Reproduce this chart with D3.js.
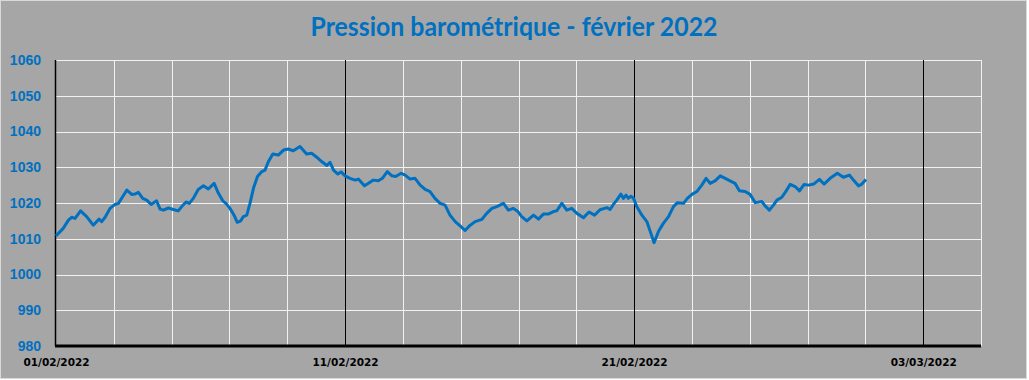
<!DOCTYPE html>
<html><head><meta charset="utf-8">
<script src="https://cdn.jsdelivr.net/npm/d3@7"></script>
<style>html,body{margin:0;padding:0;background:#ffffff;}svg{display:block;}</style>
</head><body>
<script>
// Days since 01/02/2022 00:00
const dayOffset = [0,0.25,0.43,0.54,0.66,0.85,1.06,1.29,1.49,1.58,1.70,1.87,2.02,2.16,2.31,2.45,2.62,2.73,2.85,3.00,3.14,3.29,3.48,3.60,3.71,3.89,4.06,4.23,4.35,4.50,4.61,4.75,4.92,5.10,5.27,5.47,5.62,5.77,5.88,6.02,6.16,6.27,6.39,6.48,6.60,6.71,6.83,6.97,7.12,7.23,7.35,7.50,7.69,7.87,8.04,8.21,8.44,8.67,8.85,9.02,9.19,9.37,9.48,9.60,9.75,9.86,10.00,10.17,10.35,10.46,10.67,10.81,10.98,11.15,11.29,11.46,11.62,11.75,11.94,12.08,12.25,12.42,12.60,12.77,12.94,13.11,13.29,13.46,13.63,13.81,13.98,14.15,14.33,14.50,14.73,14.90,15.08,15.25,15.48,15.65,15.82,15.98,16.11,16.29,16.52,16.69,16.86,17.03,17.21,17.32,17.50,17.67,17.84,18.02,18.25,18.44,18.63,18.82,19.06,19.17,19.28,19.40,19.54,19.63,19.72,19.80,19.89,19.98,20.09,20.27,20.44,20.58,20.69,20.84,21.01,21.19,21.36,21.50,21.71,21.84,22.00,22.17,22.34,22.49,22.63,22.80,22.98,23.15,23.32,23.49,23.64,23.84,24.01,24.19,24.42,24.53,24.68,24.82,24.94,25.11,25.26,25.40,25.57,25.72,25.88,26.03,26.21,26.41,26.57,26.78,27.03,27.24,27.45,27.61,27.76,27.88,28.02];
const pressure = [1010.8,1012.9,1015.2,1016.0,1015.7,1017.8,1016.2,1013.8,1015.5,1014.8,1016.0,1018.5,1019.5,1019.9,1021.8,1023.6,1022.4,1022.5,1023.0,1021.3,1020.8,1019.6,1020.6,1018.3,1018.0,1018.6,1018.2,1017.8,1019.0,1020.3,1019.9,1021.3,1023.8,1024.8,1023.9,1025.5,1022.7,1020.6,1019.9,1018.5,1016.6,1014.6,1015.0,1016.2,1016.6,1019.9,1024.1,1027.4,1028.8,1029.2,1031.6,1033.7,1033.4,1034.8,1035.1,1034.6,1035.8,1033.7,1033.9,1032.8,1031.6,1030.5,1031.4,1029.2,1028.1,1028.7,1027.6,1026.9,1026.4,1026.7,1024.8,1025.5,1026.4,1026.2,1026.9,1028.8,1027.6,1027.4,1028.3,1027.8,1026.7,1026.9,1025.0,1023.8,1023.2,1021.3,1019.9,1019.4,1016.6,1014.8,1013.6,1012.3,1013.8,1014.8,1015.4,1017.1,1018.5,1019.0,1019.9,1018.0,1018.5,1017.6,1016.2,1015.0,1016.6,1015.5,1016.9,1016.9,1017.6,1017.8,1019.9,1018.0,1018.5,1017.1,1015.9,1017.5,1016.6,1018.1,1018.7,1018.2,1019.6,1020.8,1022.5,1021.3,1022.2,1021.3,1021.9,1021.3,1019.0,1016.6,1014.8,1011.5,1008.9,1012.0,1014.3,1016.2,1019.0,1020.1,1019.9,1021.3,1022.4,1023.2,1025.0,1026.9,1025.5,1026.2,1027.6,1026.9,1026.2,1025.5,1023.4,1023.2,1022.4,1020.1,1020.4,1019.2,1018.0,1019.4,1020.8,1021.6,1023.4,1025.2,1024.6,1023.4,1025.2,1025.0,1025.3,1026.6,1025.3,1026.9,1028.3,1027.2,1027.8,1026.2,1024.8,1025.3,1026.6];
const yTicks = [980,990,1000,1010,1020,1030,1040,1050,1060];
const xLabelDays = [0,10,20,30];
const xLabels = ["01/02/2022","11/02/2022","21/02/2022","03/03/2022"];
const title = "Pression barométrique - février 2022";

const W = 1029, H = 380;
const L = 56, R = 981, T = 60, B = 346;
const svg = d3.select("body").append("svg").attr("width", W).attr("height", H);
svg.append("rect").attr("x",0.5).attr("y",0.5).attr("width",1026).attr("height",378)
  .attr("fill","#a6a6a6").attr("stroke","#d9d9d9");

const x = d3.scaleLinear().domain([0,32]).range([L,R]);
const y = d3.scaleLinear().domain([980,1060]).range([B,T]);

// horizontal gridlines
svg.append("g").selectAll("line").data(yTicks.filter(v=>v>980)).join("line")
  .attr("x1",L).attr("x2",R).attr("y1",d=>Math.round(y(d))+0.5).attr("y2",d=>Math.round(y(d))+0.5)
  .attr("stroke","#f2f2f2").attr("stroke-width",1);
// vertical gridlines every 2 days
const vDays = d3.range(2,33,2);
svg.append("g").selectAll("line").data(vDays).join("line")
  .attr("x1",d=>Math.round(x(d))+0.5).attr("x2",d=>Math.round(x(d))+0.5).attr("y1",T).attr("y2",B)
  .attr("stroke",d=>xLabelDays.includes(d)?"#000":"#f2f2f2").attr("stroke-width",1);

// y axis
const yAxis = d3.axisLeft(y).tickValues(yTicks).tickSize(0).tickPadding(15).tickFormat(d3.format("d"));
const gy = svg.append("g").attr("transform",`translate(${L},0)`).call(yAxis);
gy.select(".domain").remove();
gy.selectAll("text").attr("fill","#0070c0").attr("font-family","'Liberation Sans', Arial, sans-serif")
  .attr("font-weight","bold").attr("font-size","14px");
svg.append("line").attr("x1",L-0.5).attr("x2",L-0.5).attr("y1",T).attr("y2",B).attr("stroke","#000").attr("stroke-width",1.5);

// x axis
const xAxis = d3.axisBottom(x).tickValues(xLabelDays).tickSize(0).tickPadding(13)
  .tickFormat((d,i)=>xLabels[i]);
const gx = svg.append("g").attr("transform",`translate(0,${B})`).call(xAxis);
gx.select(".domain").remove();
gx.selectAll("text").attr("fill","#000").attr("font-family","'DejaVu Sans', sans-serif")
  .attr("font-weight","bold").attr("font-size","10.5px");
svg.append("line").attr("x1",L-1).attr("x2",R).attr("y1",B).attr("y2",B).attr("stroke","#000").attr("stroke-width",3);

// data line
const pts = dayOffset.map((d,i)=>[d,pressure[i]]);
svg.append("path").datum(pts)
  .attr("d", d3.line().x(d=>x(d[0])).y(d=>y(d[1])))
  .attr("fill","none").attr("stroke","#0070c0").attr("stroke-width",3).attr("stroke-linejoin","round");

// title
svg.append("text").attr("x",514).attr("y",36).attr("text-anchor","middle")
  .attr("fill","#0070c0").attr("font-family","Lato, 'Open Sans', sans-serif").attr("font-weight","bold")
  .attr("font-size","27px").attr("textLength",407).attr("lengthAdjust","spacingAndGlyphs").text(title);
</script>
</body></html>
